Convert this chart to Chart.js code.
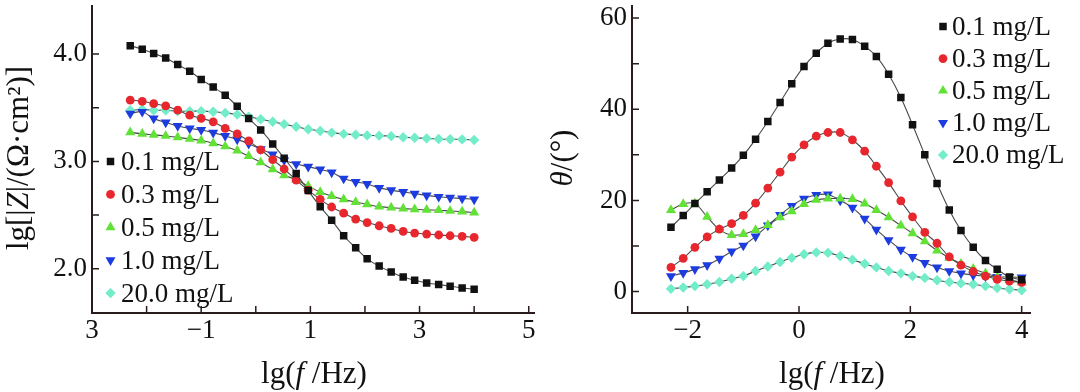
<!DOCTYPE html>
<html>
<head>
<meta charset="utf-8">
<script src="https://cdn.jsdelivr.net/npm/chart.js@4/dist/chart.umd.min.js"></script>
<style>
  body { margin: 0; background: #fff; }
  #wrap { position: relative; width: 1080px; height: 392px; }
  canvas { position: absolute; top: 0; }
</style>
</head>
<body>
<div id="wrap">
  <canvas id="modulus" width="540" height="392" style="left:0"></canvas>
  <canvas id="phase" width="540" height="392" style="left:540px"></canvas>
</div>
<script>
// Fréquences de mesure lg(f/Hz), communes aux deux graphes
const logFreq = [-2.30, -2.08, -1.87, -1.65, -1.43, -1.21, -1.00, -0.78, -0.56, -0.34,
  -0.13, 0.09, 0.31, 0.52, 0.74, 0.96, 1.18, 1.39, 1.61, 1.83,
  2.04, 2.26, 2.48, 2.70, 2.91, 3.13, 3.35, 3.56, 3.78, 4.00];

const seriesNames = ['0.1 mg/L', '0.3 mg/L', '0.5 mg/L', '1.0 mg/L', '20.0 mg/L'];

// lg|Z| (graphe de gauche)
const modulus01 = [4.078, 4.046, 4.006, 3.963, 3.902, 3.840, 3.764, 3.693, 3.616, 3.514,
  3.400, 3.293, 3.163, 3.030, 2.886, 2.729, 2.578, 2.452, 2.307, 2.194,
  2.092, 2.024, 1.969, 1.922, 1.892, 1.867, 1.852, 1.837, 1.821, 1.809];
const modulus03 = [3.570, 3.560, 3.538, 3.517, 3.477, 3.431, 3.401, 3.369, 3.307, 3.256,
  3.191, 3.108, 3.016, 2.929, 2.825, 2.732, 2.646, 2.575, 2.517, 2.462,
  2.430, 2.400, 2.375, 2.347, 2.332, 2.323, 2.314, 2.307, 2.301, 2.292];
const modulus05 = [3.271, 3.256, 3.247, 3.237, 3.224, 3.210, 3.194, 3.169, 3.139, 3.100,
  3.050, 2.990, 2.926, 2.871, 2.830, 2.770, 2.714, 2.677, 2.646, 2.621,
  2.600, 2.578, 2.569, 2.560, 2.554, 2.548, 2.545, 2.538, 2.532, 2.523];
const modulus10 = [3.446, 3.462, 3.400, 3.363, 3.330, 3.307, 3.293, 3.268, 3.237, 3.205,
  3.165, 3.115, 3.065, 3.010, 2.975, 2.950, 2.925, 2.898, 2.840, 2.809,
  2.790, 2.753, 2.732, 2.715, 2.700, 2.683, 2.670, 2.661, 2.655, 2.646];
const modulus200 = [3.477, 3.483, 3.477, 3.477, 3.468, 3.468, 3.468, 3.462, 3.452, 3.437,
  3.417, 3.392, 3.370, 3.347, 3.323, 3.300, 3.283, 3.268, 3.256, 3.248,
  3.242, 3.240, 3.235, 3.225, 3.220, 3.214, 3.209, 3.206, 3.205, 3.200];

// Angle de phase theta (graphe de droite)
const phase01 = [14.1, 16.7, 19.3, 21.9, 24.5, 27.1, 29.9, 33.4, 37.3, 41.5,
  45.6, 49.4, 52.3, 54.5, 55.4, 55.3, 53.8, 51.6, 47.7, 42.6,
  36.6, 30.0, 23.7, 17.9, 13.4, 9.7, 6.8, 4.9, 3.2, 2.6];
const phase03 = [5.3, 7.3, 9.7, 12.0, 13.7, 14.9, 16.7, 19.4, 22.7, 26.2,
  29.5, 32.2, 34.1, 34.9, 34.9, 33.3, 30.8, 27.5, 23.9, 19.9,
  16.4, 13.0, 10.6, 7.6, 5.8, 4.4, 3.4, 2.7, 2.3, 2.0];
const phase05 = [17.9, 19.2, 19.3, 16.4, 13.6, 12.4, 12.6, 13.5, 14.6, 16.3,
  17.6, 19.2, 20.1, 20.4, 20.4, 20.3, 19.3, 17.9, 16.3, 14.5,
  12.8, 11.0, 9.0, 7.4, 6.1, 5.0, 4.0, 3.2, 2.6, 2.0];
const phase10 = [3.4, 4.1, 4.9, 5.8, 7.2, 8.8, 10.1, 12.1, 14.5, 16.8,
  18.8, 20.4, 21.2, 21.3, 20.0, 18.4, 16.0, 13.6, 11.3, 9.2,
  7.6, 6.3, 5.3, 4.5, 4.0, 3.6, 3.4, 3.2, 3.2, 3.1];
const phase200 = [0.6, 0.9, 1.2, 1.6, 2.1, 2.8, 3.4, 4.5, 5.5, 6.5,
  7.4, 8.2, 8.6, 8.5, 7.8, 7.0, 6.1, 5.3, 4.5, 4.0,
  3.4, 3.0, 2.5, 2.1, 1.8, 1.6, 1.2, 0.8, 0.5, 0.3];

// Graduations
const modXTicks = [-3, -2, -1, 0, 1, 2, 3, 4, 5];
const modXLabels = ['3', '', '\u22121', '', '1', '', '3', '', '5'];
const modYTicks = [2.0, 2.5, 3.0, 3.5, 4.0];
const modYLabels = ['2.0', '', '3.0', '', '4.0'];
const phaseXTicks = [-2, 0, 2, 4];
const phaseXLabels = ['\u22122', '0', '2', '4'];
const phaseYTicks = [0, 10, 20, 30, 40, 50, 60];
const phaseYLabels = ['0', '', '20', '', '40', '', '60'];

const FONT = '"Liberation Serif", "Times New Roman", serif';
const AXIS_COLOR = '#2a1c1c';
const FIT_COLOR = '#4a4a4a';

const markers = [
  { color: '#111111', pointStyle: 'rect', radius: 5.3, rotation: 0 },
  { color: '#e8262e', pointStyle: 'circle', radius: 4.4, rotation: 0 },
  { color: '#62e236', pointStyle: 'triangle', radius: 5.8, rotation: 0 },
  { color: '#1d3ce0', pointStyle: 'triangle', radius: 5.8, rotation: 180 },
  { color: '#72ecc9', pointStyle: 'rectRot', radius: 5.2, rotation: 0 }
];

function buildDatasets(seriesList) {
  return seriesList.map((values, i) => ({
    label: seriesNames[i],
    data: logFreq.map((x, k) => ({ x: x, y: values[k] })),
    borderColor: FIT_COLOR,
    borderWidth: 1.1,
    tension: 0.35,
    fill: false,
    pointStyle: markers[i].pointStyle,
    pointRotation: markers[i].rotation,
    pointRadius: markers[i].radius,
    pointBackgroundColor: markers[i].color,
    pointBorderColor: markers[i].color,
    pointBorderWidth: 0
  }));
}

// texte avec parties en italique
function drawRich(ctx, parts, cx, cy, angle) {
  ctx.save();
  ctx.translate(cx, cy);
  ctx.rotate(angle);
  ctx.textBaseline = 'middle';
  ctx.textAlign = 'left';
  ctx.fillStyle = '#111';
  let total = 0;
  parts.forEach(p => { ctx.font = p.font; total += ctx.measureText(p.text).width; });
  let x = -total / 2;
  parts.forEach(p => {
    ctx.font = p.font;
    ctx.fillText(p.text, x, 0);
    x += ctx.measureText(p.text).width;
  });
  ctx.restore();
}

const titleFont = '31px ' + FONT;
const titleItalic = 'italic 31px ' + FONT;

// petites graduations vers l'intérieur + titres + légende
const decorations = {
  id: 'decorations',
  afterDraw(chart, args, opts) {
    const ctx = chart.ctx;
    const a = chart.chartArea;
    const xs = chart.scales.x;
    const ys = chart.scales.y;

    ctx.save();
    ctx.strokeStyle = AXIS_COLOR;
    ctx.lineWidth = 1.5;
    ctx.beginPath();
    xs.ticks.forEach(t => {
      const px = xs.getPixelForValue(t.value);
      ctx.moveTo(px, a.bottom);
      ctx.lineTo(px, a.bottom - 7);
    });
    ys.ticks.forEach(t => {
      const py = ys.getPixelForValue(t.value);
      ctx.moveTo(a.left, py);
      ctx.lineTo(a.left + 7, py);
    });
    ctx.stroke();
    ctx.restore();

    drawRich(ctx, opts.xTitle, opts.xTitlePos[0], opts.xTitlePos[1], 0);
    drawRich(ctx, opts.yTitle, opts.yTitlePos[0], opts.yTitlePos[1], -Math.PI / 2);

    // légende
    const lg = opts.legend;
    chart.data.datasets.forEach((ds, i) => {
      const y = lg.y0 + lg.dy * i;
      ctx.save();
      ctx.fillStyle = markers[i].color;
      Chart.helpers.drawPoint(ctx, {
        pointStyle: markers[i].pointStyle,
        rotation: markers[i].rotation,
        radius: markers[i].radius,
        borderWidth: 0
      }, lg.x, y);
      ctx.fillStyle = '#111';
      ctx.font = '27px ' + FONT;
      ctx.textBaseline = 'alphabetic';
      ctx.textAlign = 'left';
      ctx.fillText(ds.label, lg.textX, y + 8.5);
      ctx.restore();
    });
  }
};

function makeScale(min, max, tickValues, tickLabels, isX) {
  return {
    type: 'linear',
    min: min,
    max: max,
    grid: { display: false, drawTicks: false },
    border: { display: true, color: AXIS_COLOR, width: 2 },
    ticks: {
      autoSkip: false,
      maxRotation: 0,
      padding: isX ? 2 : 5,
      color: '#111',
      font: { family: FONT, size: 27 },
      callback: (value) => {
        const k = tickValues.indexOf(value);
        return k >= 0 ? tickLabels[k] : '';
      }
    },
    afterBuildTicks: (scale) => {
      scale.ticks = tickValues.map(v => ({ value: v }));
    },
    afterFit: (scale) => {
      if (isX) scale.height = 79; else scale.width = 92;
      scale.paddingLeft = 0;
      scale.paddingRight = 0;
      scale.paddingTop = 0;
      scale.paddingBottom = 0;
    }
  };
}

function renderChart(canvasId, seriesList, cfg) {
  const ctx = document.getElementById(canvasId).getContext('2d');
  return new Chart(ctx, {
    type: 'line',
    data: { datasets: buildDatasets(seriesList) },
    options: {
      responsive: false,
      animation: false,
      devicePixelRatio: 1,
      layout: { padding: { left: 0, right: cfg.rightPad, top: 3, bottom: 0 } },
      plugins: {
        legend: { display: false },
        tooltip: { enabled: false },
        decorations: cfg.deco
      },
      scales: {
        x: makeScale(cfg.xMin, cfg.xMax, cfg.xTicks, cfg.xLabels, true),
        y: makeScale(cfg.yMin, cfg.yMax, cfg.yTicks, cfg.yLabels, false)
      }
    },
    plugins: [decorations]
  });
}

renderChart('modulus', [modulus01, modulus03, modulus05, modulus10, modulus200], {
  xMin: -3, xMax: 5.1, xTicks: modXTicks, xLabels: modXLabels,
  yMin: 1.587, yMax: 4.45, yTicks: modYTicks, yLabels: modYLabels,
  rightPad: 3,
  deco: {
    xTitle: [{ text: 'lg(', font: titleFont }, { text: 'f', font: titleItalic }, { text: ' /Hz)', font: titleFont }],
    xTitlePos: [314, 375],
    yTitle: [{ text: 'lg[|', font: titleFont }, { text: 'Z', font: titleItalic }, { text: '|/(\u03A9\u00B7cm\u00B2)]', font: titleFont }],
    yTitlePos: [20, 158],
    legend: { x: 110.5, textX: 121, y0: 161.5, dy: 32.9 }
  }
});

renderChart('phase', [phase01, phase03, phase05, phase10, phase200], {
  xMin: -3, xMax: 4.15, xTicks: phaseXTicks, xLabels: phaseXLabels,
  yMin: -4.7, yMax: 62.7, yTicks: phaseYTicks, yLabels: phaseYLabels,
  rightPad: 50,
  deco: {
    xTitle: [{ text: 'lg(', font: titleFont }, { text: 'f', font: titleItalic }, { text: ' /Hz)', font: titleFont }],
    xTitlePos: [292, 375],
    yTitle: [{ text: '\u03B8', font: titleItalic }, { text: '/(\u00B0)', font: titleFont }],
    yTitlePos: [24, 158],
    legend: { x: 403, textX: 412, y0: 26.5, dy: 32.1 }
  }
});
</script>
</body>
</html>
